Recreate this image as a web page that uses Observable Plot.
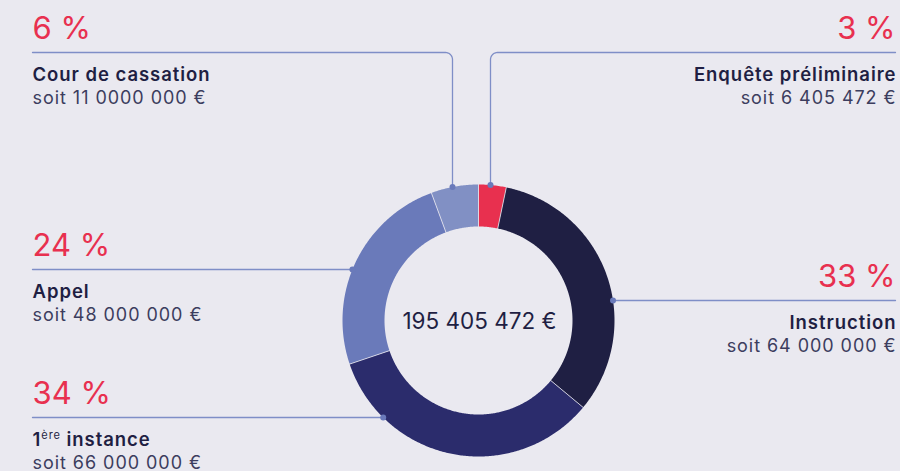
<!DOCTYPE html>
<html>
<head>
<meta charset="utf-8">
<script src="https://cdn.jsdelivr.net/npm/d3@7"></script>
<script src="https://cdn.jsdelivr.net/npm/@observablehq/plot@0.6"></script>
<style>
  html, body { margin: 0; padding: 0; background: #EAE9F0; }
  #chart svg { display: block; }
</style>
</head>
<body>
<div id="chart"></div>
<script>
// ---- Data ----
const categories = ["Enquête préliminaire", "Instruction", "1ère instance", "Appel", "Cour de cassation"];
const amounts = [6405472, 64000000, 66000000, 48000000, 11000000];
const percentLabels = ["3 %", "33 %", "34 %", "24 %", "6 %"];
const amountLabels = ["soit 6 405 472 €", "soit 64 000 000 €", "soit 66 000 000 €", "soit 48 000 000 €", "soit 11 0000 000 €"];
const totalLabel = "195 405 472 €";
const palette = ["#E8304F", "#1F1F43", "#2B2C6C", "#6A7ABA", "#8190C4"];

// ---- Layout (not data) ----
const W = 900, H = 471;
const cx = 478, cy = 320, R = 136, r0 = 94;
const bg = "#EAE9F0";
const layout = {
  "Enquête préliminaire": {side: "right", lineY: 52, dropX: 490},
  "Instruction": {side: "right", lineY: 300},
  "1ère instance": {side: "left", lineY: 417},
  "Appel": {side: "left", lineY: 269},
  "Cour de cassation": {side: "left", lineY: 52, dropX: 452}
};
const leftX = 32, rightX = 895, corner = 7;

// ---- Ring geometry from d3.pie ----
const pie = d3.pie().sort(null).value(d => d.value).startAngle(0).endAngle(2 * Math.PI);
const arcs = pie(categories.map((c, i) => ({key: c, value: amounts[i]})));
const pt = (a, rad) => [cx + rad * Math.sin(a), cy - rad * Math.cos(a)];
const ringPts = [];
for (const a of arcs) {
  const n = Math.max(4, Math.ceil((a.endAngle - a.startAngle) / 0.01));
  for (let k = 0; k <= n; k++) {
    const t = a.startAngle + (a.endAngle - a.startAngle) * k / n;
    const [x, y] = pt(t, R);
    ringPts.push({key: a.data.key, x, y});
  }
  for (let k = n; k >= 0; k--) {
    const t = a.startAngle + (a.endAngle - a.startAngle) * k / n;
    const [x, y] = pt(t, r0);
    ringPts.push({key: a.data.key, x, y});
  }
}
const seps = arcs.map(a => {
  const [x1, y1] = pt(a.startAngle, r0 - 1);
  const [x2, y2] = pt(a.startAngle, R + 1);
  return {x1, y1, x2, y2};
});

// ---- Leaders ----
const leaderPts = [], dots = [], texts = [];
categories.forEach((c, i) => {
  const L = layout[c];
  let dx, dy;
  const pts = [];
  if (L.dropX !== undefined) {
    dx = L.dropX;
    dy = cy - Math.sqrt(R * R - (dx - cx) ** 2);
    const sgn = L.side === "left" ? -1 : 1;
    const far = L.side === "left" ? leftX : rightX;
    pts.push([dx, dy], [dx, L.lineY + corner]);
    for (let k = 1; k < 8; k++) {
      const t = (Math.PI / 2) * k / 8;
      pts.push([dx + sgn * corner * (1 - Math.cos(t)), L.lineY + corner * (1 - Math.sin(t))]);
    }
    pts.push([dx + sgn * corner, L.lineY], [far, L.lineY]);
  } else {
    dy = L.lineY;
    const off = Math.sqrt(R * R - (dy - cy) ** 2);
    dx = L.side === "left" ? cx - off : cx + off;
    pts.push([dx, dy], [L.side === "left" ? leftX : rightX, dy]);
  }
  pts.forEach(([x, y]) => leaderPts.push({key: c, x, y}));
  dots.push({x: dx, y: dy});
  const tx = L.side === "left" ? leftX : rightX;
  const anchor = L.side === "left" ? "start" : "end";
  texts.push({kind: "pct", text: percentLabels[i], x: tx, y: L.lineY - 14, anchor});
  texts.push({kind: "name", text: c, x: anchor === "end" ? tx + 1 : tx, y: L.lineY + 28, anchor});
  texts.push({kind: "amt", text: amountLabels[i], x: anchor === "end" ? tx + 1 : tx, y: L.lineY + 51, anchor});
});

const font = "Inter, 'Open Sans', sans-serif";
const textMark = (kind, opts) => ["start", "end"].map(anchor =>
  Plot.text(texts.filter(d => d.kind === kind && d.anchor === anchor), {
    x: "x", y: "y", text: "text", textAnchor: anchor, lineAnchor: "bottom",
    fontFamily: font, ...opts
  }));

const chart = Plot.plot({
  width: W, height: H,
  margin: 0,
  style: {background: bg, fontFamily: font, overflow: "visible"},
  x: {domain: [0, W], range: [0, W], axis: null},
  y: {domain: [0, H], range: [0, H], axis: null},
  color: {domain: categories, range: palette},
  marks: [
    Plot.line(ringPts, {x: "x", y: "y", z: "key", fill: "key", stroke: "none", curve: "linear"}),
    Plot.link(seps, {x1: "x1", y1: "y1", x2: "x2", y2: "y2", stroke: bg, strokeWidth: 0.8}),
    Plot.line(leaderPts, {x: "x", y: "y", z: "key", stroke: "#7F8EC7", strokeWidth: 1.3, curve: "linear"}),
    Plot.dot(dots, {x: "x", y: "y", r: 3, fill: "#6A7ABA", stroke: "none"}),
    ...textMark("pct", {fontSize: 31, fontWeight: 400, fill: "#E8304F"}),
    ...textMark("name", {fontSize: 18.5, fontWeight: 600, fill: "#1F1F43"}),
    ...textMark("amt", {fontSize: 18, fontWeight: 400, fill: "#3C3D5E"}),
    Plot.text([totalLabel], {x: [cx + 1], y: [cy + 8], text: d => d, lineAnchor: "bottom",
      fontSize: 22.5, fontWeight: 400, fill: "#1F1F43", fontFamily: font})
  ]
});
document.getElementById("chart").appendChild(chart);

// wider tracking for names and amounts (reference typeface is wider)
chart.querySelectorAll('g[font-size="18.5"], g[font-size="18"]').forEach(g => {
  g.style.letterSpacing = "0.95px";
});

// superscript for "1ère instance"
chart.querySelectorAll("text").forEach(t => {
  if (t.textContent === "1ère instance") {
    const ns = "http://www.w3.org/2000/svg";
    t.textContent = "";
    const a = document.createElementNS(ns, "tspan"); a.textContent = "1";
    const b = document.createElementNS(ns, "tspan"); b.textContent = "ère";
    b.setAttribute("font-size", "11"); b.setAttribute("dy", "-7"); b.setAttribute("font-weight", "400");
    const c = document.createElementNS(ns, "tspan"); c.textContent = "\u00a0instance"; c.setAttribute("dy", "7");
    t.append(a, b, c);
  }
});
</script>
</body>
</html>
